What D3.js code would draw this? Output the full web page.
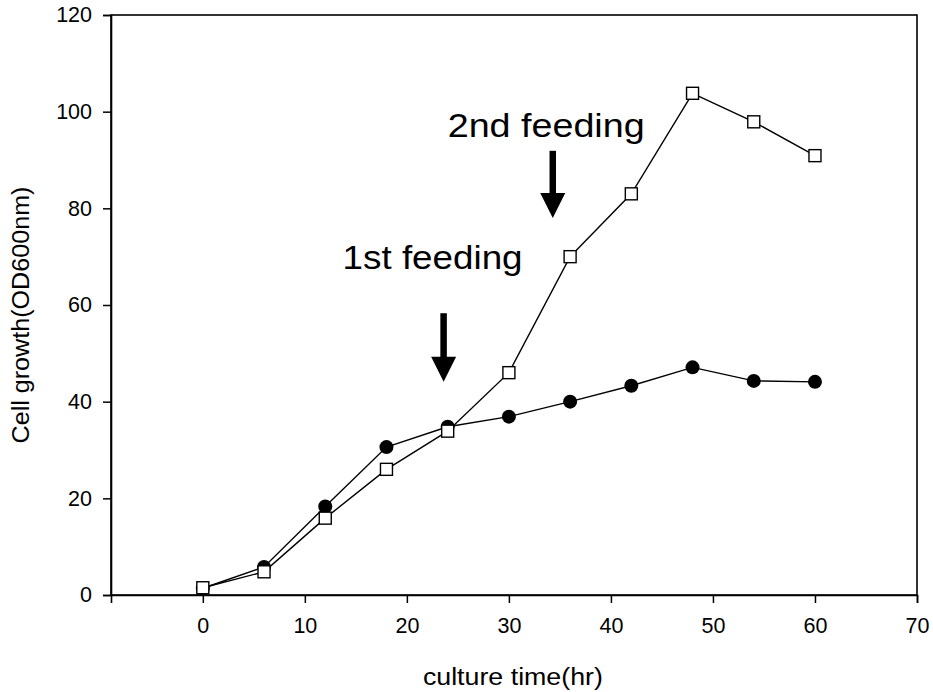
<!DOCTYPE html>
<html>
<head>
<meta charset="utf-8">
<script src="https://cdn.jsdelivr.net/npm/d3@7"></script>
<style>
  html, body { margin: 0; padding: 0; background: #fff; }
  svg { display: block; font-family: Arial, "Liberation Sans", sans-serif; }
</style>
</head>
<body>
<svg id="chart" width="933" height="692"></svg>
<script>
// ---- data ----
const hours = [0, 6, 12, 18, 24, 30, 36, 42, 48, 54, 60];
const fedBatch = [1.5, 4.8, 15.9, 26.0, 33.9, 46.0, 70.0, 83.0, 103.8, 97.9, 90.9];   // open squares
const batch    = [1.4, 5.8, 18.3, 30.6, 34.8, 36.9, 40.0, 43.3, 47.1, 44.3, 44.1];    // filled circles
const xTicks = [0, 10, 20, 30, 40, 50, 60, 70];
const yTicks = [0, 20, 40, 60, 80, 100, 120];
const annotLabels = ["1st feeding", "2nd feeding"];
const annotTextX  = [13.7, 24.0];
const annotTextY  = [67.5, 94.8];
const arrowX      = [23.6, 34.3];
const arrowTop    = [58.3, 91.9];
const arrowTip    = [44.1, 78.0];
const xTitle = "culture time(hr)";
const yTitle = "Cell growth(OD600nm)";

// ---- layout ----
const svg = d3.select("#chart");
const L = 111, R = 917, T = 15, B = 595;
const x = d3.scaleLinear().domain([-9, 70]).range([L, R]);
const y = d3.scaleLinear().domain([0, 120]).range([B, T]);

// frame
svg.append("rect").attr("x", L).attr("y", T).attr("width", R - L).attr("height", B - T)
  .attr("fill", "none").attr("stroke", "#000").attr("stroke-width", 1.6);

// axes
const xAxis = svg.append("g").attr("transform", `translate(0,${B})`)
  .call(d3.axisBottom(x).tickValues(xTicks).tickSize(8).tickPadding(15).tickFormat(d3.format("d")));
const yAxis = svg.append("g").attr("transform", `translate(${L},0)`)
  .call(d3.axisLeft(y).tickValues(yTicks).tickSize(8).tickPadding(11).tickFormat(d3.format("d")));
[xAxis, yAxis].forEach(g => {
  g.select(".domain").attr("stroke", "#000").attr("stroke-width", 1.6);
  g.selectAll(".tick line").attr("stroke", "#000").attr("stroke-width", 1.5);
  g.selectAll(".tick text").attr("fill", "#000").style("font-size", "21.5px")
    .style("font-family", "Arial, 'Liberation Sans', sans-serif");
});

// axis titles
svg.append("text").attr("x", (x(0) + x(70)) / 2 - 47).attr("y", 685)
  .attr("text-anchor", "middle").style("font-size", "23px")
  .attr("textLength", 180).attr("lengthAdjust", "spacingAndGlyphs").text(xTitle);
svg.append("text").attr("transform", "translate(29,315) rotate(-90)")
  .attr("text-anchor", "middle").style("font-size", "23px")
  .attr("textLength", 257).attr("lengthAdjust", "spacingAndGlyphs").text(yTitle);

// lines
const line = d3.line().x((d, i) => x(hours[i])).y(d => y(d));
svg.append("path").datum(batch).attr("d", line).attr("fill", "none")
  .attr("stroke", "#000").attr("stroke-width", 1.4);
svg.append("path").datum(fedBatch).attr("d", line).attr("fill", "none")
  .attr("stroke", "#000").attr("stroke-width", 1.4);

// markers
svg.append("g").selectAll("circle").data(batch).join("circle")
  .attr("cx", (d, i) => x(hours[i])).attr("cy", d => y(d)).attr("r", 7)
  .attr("fill", "#000");
const s = 12;
svg.append("g").selectAll("rect").data(fedBatch).join("rect")
  .attr("x", (d, i) => x(hours[i]) - s / 2).attr("y", d => y(d) - s / 2)
  .attr("width", s).attr("height", s)
  .attr("fill", "#fff").attr("stroke", "#000").attr("stroke-width", 1.4);

// annotations
annotLabels.forEach((lab, i) => {
  svg.append("text").attr("x", x(annotTextX[i])).attr("y", y(annotTextY[i]))
    .style("font-size", "34px").attr("textLength", i === 0 ? 180 : 197)
    .attr("lengthAdjust", "spacingAndGlyphs").text(lab);
  const ax = x(arrowX[i]), top = y(arrowTop[i]), tip = y(arrowTip[i]);
  const headH = 25, headW = 25, shaftW = 6.5;
  svg.append("rect").attr("x", ax - shaftW / 2).attr("y", top)
    .attr("width", shaftW).attr("height", tip - headH - top + 1).attr("fill", "#000");
  svg.append("path").attr("d", `M${ax - headW / 2},${tip - headH} L${ax + headW / 2},${tip - headH} L${ax},${tip} Z`)
    .attr("fill", "#000");
});
</script>
</body>
</html>
